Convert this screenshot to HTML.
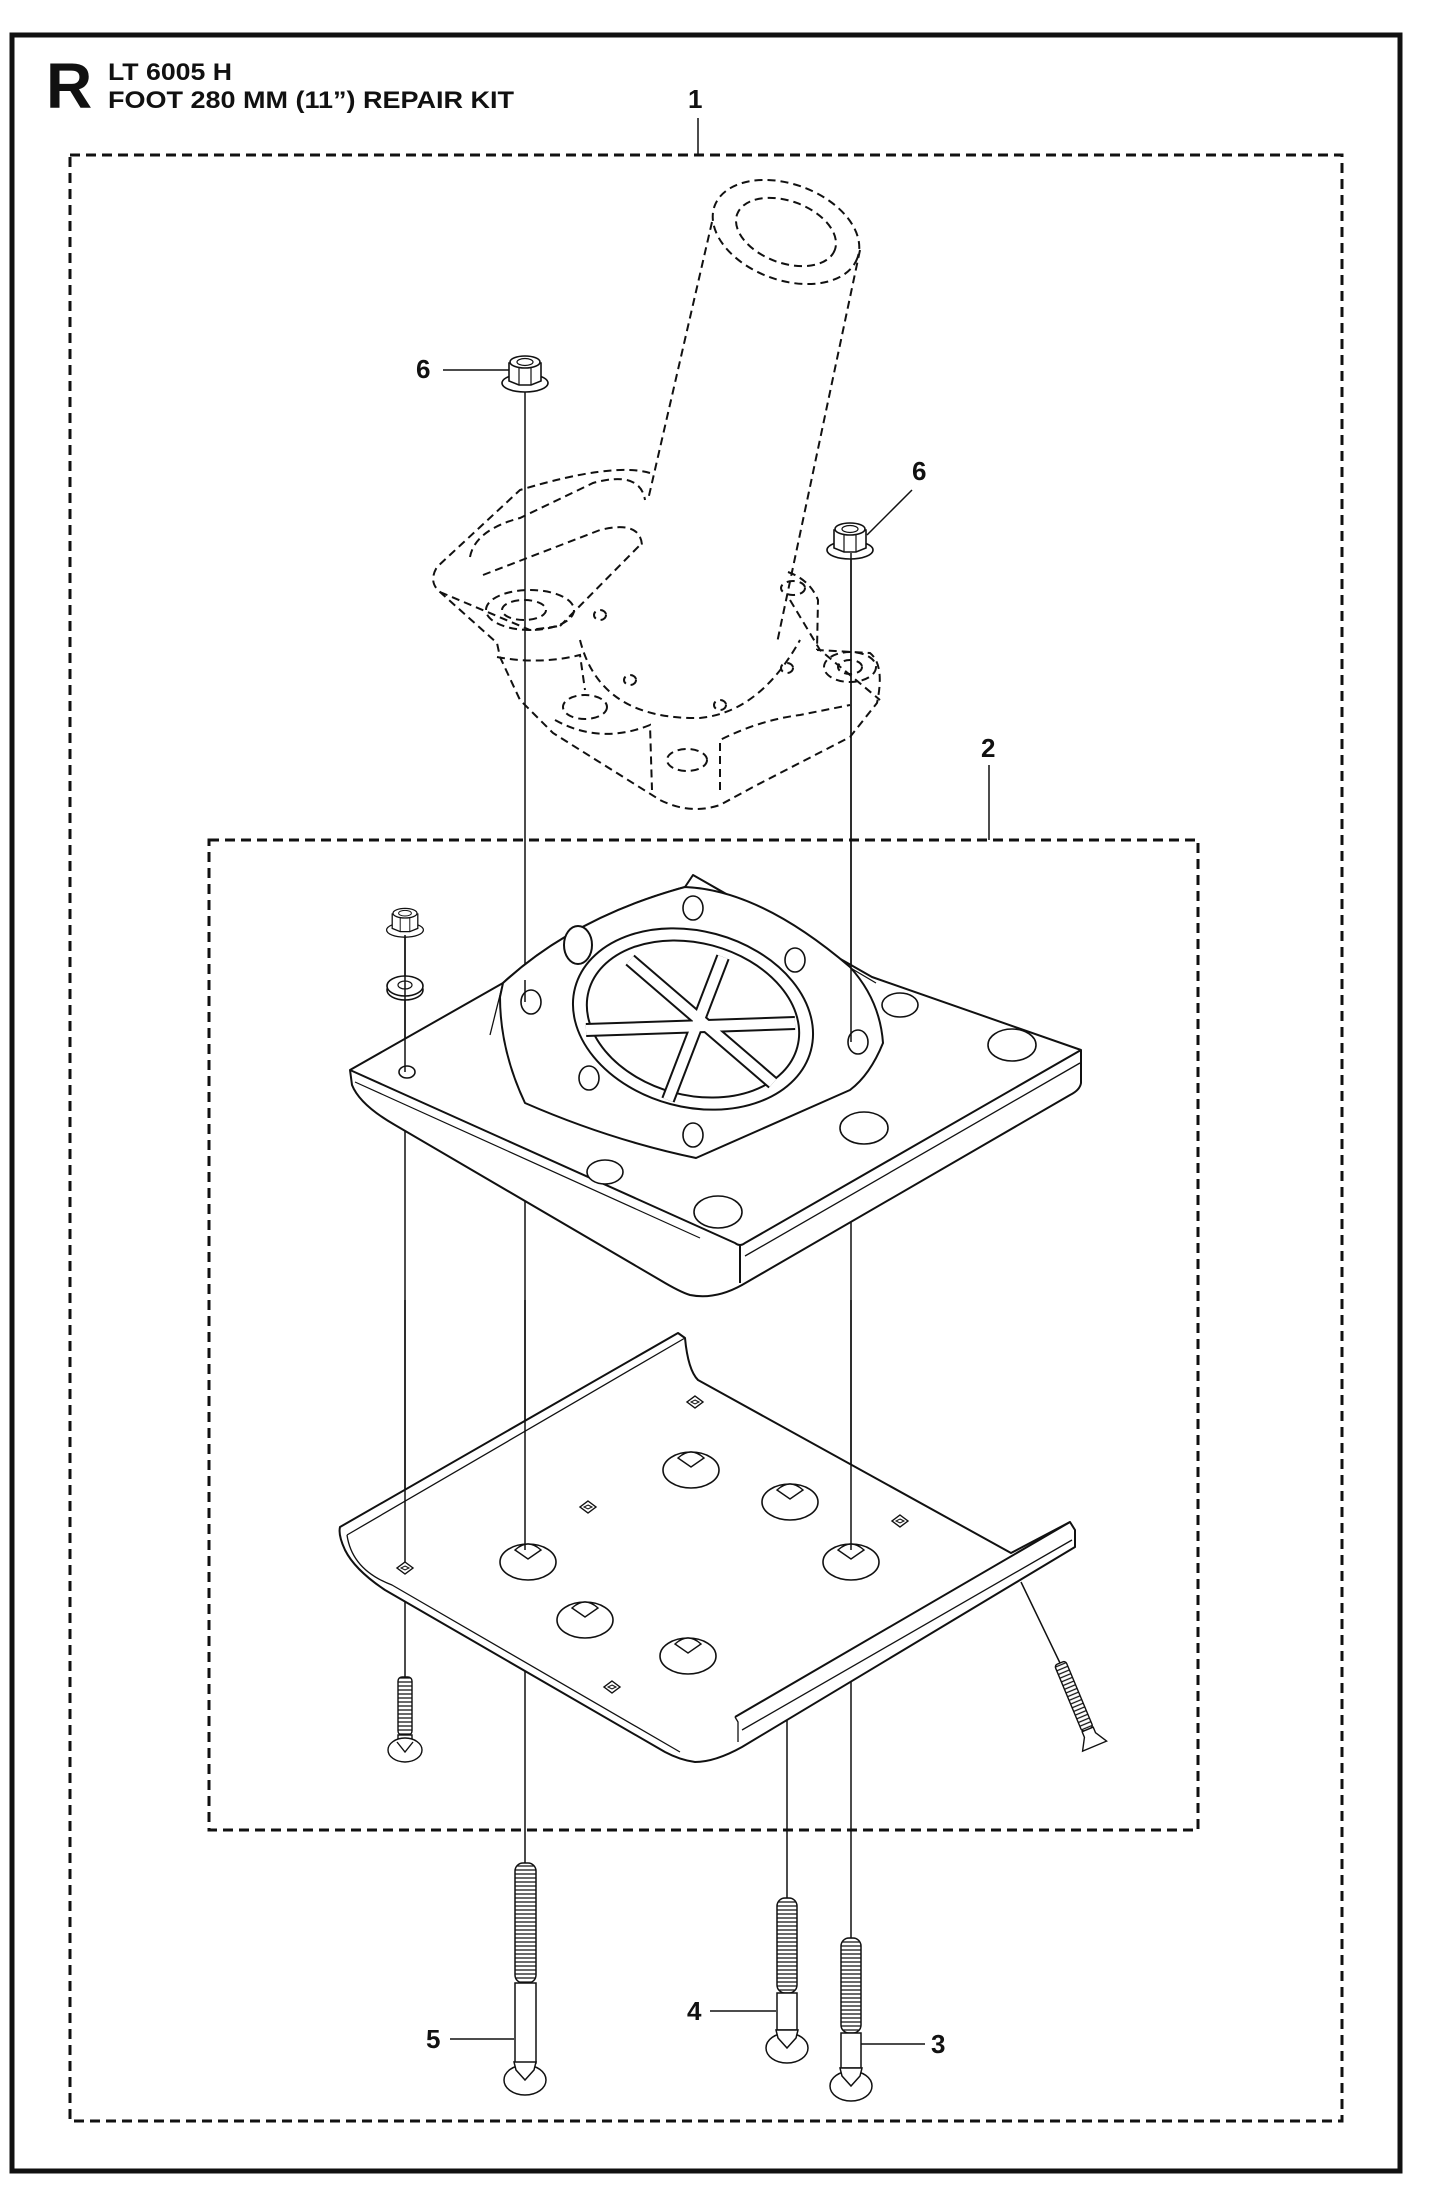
<!DOCTYPE html>
<html><head><meta charset="utf-8"><style>
html,body{margin:0;padding:0;background:#fff}
svg{display:block}
text{font-family:"Liberation Sans",Arial,sans-serif;font-weight:bold;fill:#111}
</style></head><body>
<svg width="1445" height="2189" viewBox="0 0 1445 2189" xmlns="http://www.w3.org/2000/svg">
<defs>
<g id="dome">
<ellipse cx="0" cy="0" rx="28" ry="18" fill="#fff" stroke="#111" stroke-width="1.6"/>
<path d="M-13,-12 Q0,-24 13,-12 L0,-3 Z" fill="#fff" stroke="#111" stroke-width="1.4"/>
</g>
<g id="dia"><path d="M0,-6 L8,0 L0,6 L-8,0 Z" fill="#fff" stroke="#111" stroke-width="1.4"/><path d="M0,-2 L4,0 L0,2 L-4,0 Z" fill="none" stroke="#111" stroke-width="1"/></g>
<g id="nut">
<ellipse cx="0" cy="10" rx="23" ry="9" fill="#fff" stroke="#111" stroke-width="1.6"/>
<path d="M-16,-10 L-16,8 L-6,12 L6,12 L16,8 L16,-10 Z" fill="#fff" stroke="#111" stroke-width="1.6"/>
<line x1="-6" y1="-6" x2="-6" y2="12" stroke="#111" stroke-width="1.2"/>
<line x1="6" y1="-6" x2="6" y2="12" stroke="#111" stroke-width="1.2"/>
<ellipse cx="0" cy="-11" rx="15" ry="6" fill="#fff" stroke="#111" stroke-width="1.6"/>
<ellipse cx="0" cy="-11" rx="8" ry="3.5" fill="#fff" stroke="#111" stroke-width="1.2"/>
</g>
<pattern id="thr" width="20" height="4" patternUnits="userSpaceOnUse"><rect width="20" height="4" fill="#fff"/><line x1="0" y1="2" x2="20" y2="2" stroke="#111" stroke-width="1.2"/></pattern>
</defs>

<!-- frame -->
<rect x="12" y="35" width="1388" height="2136" fill="none" stroke="#111" stroke-width="5"/>
<rect x="70" y="155" width="1272" height="1966" fill="none" stroke="#111" stroke-width="3" stroke-dasharray="10,6"/>
<rect x="209" y="840" width="989" height="990" fill="none" stroke="#111" stroke-width="3" stroke-dasharray="10,6"/>

<!-- title -->
<text x="46" y="108" font-size="64">R</text>
<text x="108" y="80" font-size="24" textLength="124" lengthAdjust="spacingAndGlyphs">LT 6005 H</text>
<text x="108" y="108" font-size="24" textLength="406" lengthAdjust="spacingAndGlyphs">FOOT 280 MM (11”) REPAIR KIT</text>

<!-- labels -->
<text x="688" y="108" font-size="26">1</text>
<line x1="698" y1="118" x2="698" y2="155" stroke="#111" stroke-width="1.5"/>
<text x="981" y="757" font-size="26">2</text>
<line x1="989" y1="765" x2="989" y2="840" stroke="#111" stroke-width="1.5"/>
<text x="416" y="378" font-size="26">6</text>
<line x1="443" y1="370" x2="510" y2="370" stroke="#111" stroke-width="1.5"/>
<text x="912" y="480" font-size="26">6</text>
<line x1="912" y1="490" x2="867" y2="535" stroke="#111" stroke-width="1.5"/>
<text x="426" y="2048" font-size="26">5</text>
<line x1="450" y1="2039" x2="514" y2="2039" stroke="#111" stroke-width="1.5"/>
<text x="687" y="2020" font-size="26">4</text>
<line x1="710" y1="2011" x2="776" y2="2011" stroke="#111" stroke-width="1.5"/>
<text x="931" y="2053" font-size="26">3</text>
<line x1="861" y1="2044" x2="925" y2="2044" stroke="#111" stroke-width="1.5"/>

<!-- tube & housing (dashed) -->
<g fill="none" stroke="#111" stroke-width="2" stroke-dasharray="8,5">
<ellipse cx="786" cy="232" rx="76" ry="48" transform="rotate(20 786 232)"/>
<ellipse cx="786" cy="232" rx="52" ry="31" transform="rotate(20 786 232)"/>
<line x1="712" y1="222" x2="648" y2="500"/>
<line x1="860" y1="250" x2="777" y2="643"/>
<path d="M650,473 Q613,462 520,490 L437,567 Q428,582 440,592 L497,643 L500,657 L520,700 L553,733 L660,800 Q690,815 720,805 L753,787 L850,737 L877,703 Q885,665 870,653 L817,650"/>
<path d="M470,557 Q475,530 520,518 L593,483 Q640,470 645,500"/>
<path d="M483,575 L600,530 Q640,520 642,545"/>
<path d="M440,592 L530,630 L560,626"/>
<path d="M560,626 L640,545"/>
<ellipse cx="530" cy="610" rx="44" ry="20"/>
<ellipse cx="524" cy="610" rx="22" ry="10"/>
<path d="M497,657 Q540,665 580,655 L585,690"/>
<ellipse cx="585" cy="707" rx="22" ry="12"/>
<path d="M555,720 Q600,745 650,725 L652,790"/>
<ellipse cx="687" cy="760" rx="20" ry="11"/>
<path d="M720,790 L720,740 Q760,720 800,715 L850,705"/>
<ellipse cx="850" cy="667" rx="26" ry="15"/>
<ellipse cx="850" cy="667" rx="12" ry="7"/>
<path d="M580,640 Q600,720 700,718 Q760,712 800,640"/>
<path d="M788,572 Q810,580 818,600 L817,650"/>
<ellipse cx="793" cy="588" rx="12" ry="7"/>
<path d="M790,600 L820,650 L880,700"/>
<ellipse cx="600" cy="615" rx="6" ry="5"/>
<ellipse cx="630" cy="680" rx="6" ry="5"/>
<ellipse cx="720" cy="705" rx="6" ry="5"/>
<ellipse cx="787" cy="668" rx="6" ry="5"/>
</g>

<!-- vertical connector lines -->
<g stroke="#111" stroke-width="1.5">
<line x1="525" y1="388" x2="525" y2="1863"/>
<line x1="851" y1="553" x2="851" y2="1938"/>
<line x1="405" y1="935" x2="405" y2="1677"/>
<line x1="787" y1="1700" x2="787" y2="1898"/>
<line x1="1021" y1="1582" x2="1060" y2="1663"/>
</g>

<!-- nuts -->
<use href="#nut" x="525" y="373"/>
<use href="#nut" x="850" y="540"/>
<g transform="translate(405,922) scale(0.8)"><use href="#nut"/></g>
<!-- washer -->
<ellipse cx="405" cy="990" rx="18" ry="10" fill="#fff" stroke="#111" stroke-width="1.6"/>
<ellipse cx="405" cy="986" rx="18" ry="10" fill="#fff" stroke="#111" stroke-width="1.6"/>
<ellipse cx="405" cy="985" rx="7" ry="4" fill="#fff" stroke="#111" stroke-width="1.2"/>

<!-- base plate -->
<g stroke="#111" stroke-width="2" fill="#fff" stroke-linejoin="round">
<path d="M350,1070 L503,983 Q575,917 685,887 L693,875 L872,977 L1081,1050 L1081,1083 Q1080,1090 1070,1095 L742,1285 Q715,1300 690,1295 Q680,1292 660,1280 L395,1125 Q360,1105 352,1085 Z"/>
<path d="M350,1070 L735,1243 Q740,1247 745,1243 L1081,1050" fill="none"/>
<path d="M745,1256 L1080,1063" fill="none" stroke-width="1.3"/>
<path d="M740,1245 L740,1283" fill="none"/>
<path d="M355,1082 L700,1238" fill="none" stroke-width="1.2"/>
<path d="M693,875 L876,983" fill="none" stroke-width="1.3"/>
<path d="M503,983 Q575,917 685,887 Q760,890 850,967 Q880,1000 883,1043 Q870,1075 850,1090 L696,1158 Q610,1140 525,1103 Q500,1050 500,997 Z"/>
<path d="M503,983 L490,1035" fill="none" stroke-width="1.3"/>
<ellipse cx="693" cy="1019" rx="122" ry="88" transform="rotate(15 693 1019)"/>
<ellipse cx="693" cy="1019" rx="108" ry="76" transform="rotate(15 693 1019)"/>
<ellipse cx="578" cy="945" rx="14" ry="19"/>
</g>
<g stroke-linecap="butt">
<line x1="630" y1="960" x2="773" y2="1083" stroke="#111" stroke-width="14"/>
<line x1="723" y1="957" x2="668" y2="1100" stroke="#111" stroke-width="14"/>
<line x1="586" y1="1030" x2="795" y2="1023" stroke="#111" stroke-width="14"/>
<line x1="630" y1="960" x2="773" y2="1083" stroke="#fff" stroke-width="10"/>
<line x1="723" y1="957" x2="668" y2="1100" stroke="#fff" stroke-width="10"/>
<line x1="586" y1="1030" x2="795" y2="1023" stroke="#fff" stroke-width="10"/>
</g>
<g fill="#fff" stroke="#111" stroke-width="1.6">
<ellipse cx="693" cy="908" rx="10" ry="12"/>
<ellipse cx="531" cy="1002" rx="10" ry="12"/>
<ellipse cx="795" cy="960" rx="10" ry="12"/>
<ellipse cx="858" cy="1042" rx="10" ry="12"/>
<ellipse cx="589" cy="1078" rx="10" ry="12"/>
<ellipse cx="693" cy="1135" rx="10" ry="12"/>
<ellipse cx="900" cy="1005" rx="18" ry="12"/>
<ellipse cx="1012" cy="1045" rx="24" ry="16"/>
<ellipse cx="864" cy="1128" rx="24" ry="16"/>
<ellipse cx="605" cy="1172" rx="18" ry="12"/>
<ellipse cx="718" cy="1212" rx="24" ry="16"/>
<ellipse cx="407" cy="1072" rx="8" ry="6"/>
</g>
<line x1="525" y1="980" x2="525" y2="1002" stroke="#111" stroke-width="1.5"/>
<line x1="851" y1="553" x2="851" y2="1042" stroke="#111" stroke-width="1.5"/>
<line x1="405" y1="935" x2="405" y2="1072" stroke="#111" stroke-width="1.5"/>

<!-- skid plate -->
<g stroke="#111" stroke-width="2" fill="#fff" stroke-linejoin="round">
<path d="M678,1333 L685,1338 Q688,1370 698,1380 L1011,1553 L1070,1522 L1075,1530 L1075,1547 L742,1747 Q715,1762 695,1762 Q680,1760 665,1752 L385,1590 Q355,1570 345,1550 Q338,1535 340,1527 Z"/>
<path d="M347,1535 L685,1338" fill="none" stroke-width="1.3"/>
<path d="M347,1535 Q352,1570 392,1585 L680,1752" fill="none" stroke-width="1.3"/>
<path d="M735,1717 L1070,1522" fill="none"/>
<path d="M735,1717 L738,1722 L738,1742" fill="none" stroke-width="1.3"/>
<path d="M742,1730 L1072,1540" fill="none" stroke-width="1.3"/>
</g>
<use href="#dome" x="691" y="1470"/>
<use href="#dome" x="790" y="1502"/>
<use href="#dome" x="528" y="1562"/>
<use href="#dome" x="851" y="1562"/>
<use href="#dome" x="585" y="1620"/>
<use href="#dome" x="688" y="1656"/>
<use href="#dia" x="695" y="1402"/>
<use href="#dia" x="588" y="1507"/>
<use href="#dia" x="900" y="1521"/>
<use href="#dia" x="405" y="1568"/>
<use href="#dia" x="612" y="1687"/>
<line x1="525" y1="1300" x2="525" y2="1550" stroke="#111" stroke-width="1.5"/>
<line x1="851" y1="1300" x2="851" y2="1550" stroke="#111" stroke-width="1.5"/>
<line x1="405" y1="1300" x2="405" y2="1562" stroke="#111" stroke-width="1.5"/>

<!-- small left bolt -->
<g stroke="#111" stroke-width="1.4">
<rect x="398" y="1677" width="14" height="58" rx="4" fill="url(#thr)"/>
<rect x="398" y="1735" width="14" height="8" fill="#fff"/>
<ellipse cx="405" cy="1750" rx="17" ry="12" fill="#fff"/>
<path d="M397,1742 L405,1752 L413,1742" fill="none"/>
</g>
<!-- right screw -->
<g transform="translate(1060,1663) rotate(-22.6)" stroke="#111" stroke-width="1.4">
<rect x="-6" y="0" width="12" height="72" rx="3" fill="url(#thr)"/>
<path d="M-6,72 L-6,78 L-13,90 L13,90 L6,78 L6,72 Z" fill="#fff"/>
</g>

<!-- bottom bolts -->
<g stroke="#111" stroke-width="1.5">
<rect x="515" y="1863" width="21" height="120" rx="8" fill="url(#thr)"/>
<rect x="515" y="1983" width="21" height="80" fill="#fff"/>
<ellipse cx="525" cy="2080" rx="21" ry="15" fill="#fff"/>
<path d="M514,2062 L516,2070 L525,2080 L534,2070 L536,2062 Z" fill="#fff"/>

<rect x="777" y="1898" width="20" height="95" rx="8" fill="url(#thr)"/>
<rect x="777" y="1993" width="20" height="37" fill="#fff"/>
<ellipse cx="787" cy="2048" rx="21" ry="15" fill="#fff"/>
<path d="M776,2030 L778,2038 L787,2048 L796,2038 L798,2030 Z" fill="#fff"/>

<rect x="841" y="1938" width="20" height="95" rx="8" fill="url(#thr)"/>
<rect x="841" y="2033" width="20" height="35" fill="#fff"/>
<ellipse cx="851" cy="2086" rx="21" ry="15" fill="#fff"/>
<path d="M840,2068 L842,2076 L851,2086 L860,2076 L862,2068 Z" fill="#fff"/>
</g>
</svg>
</body></html>
